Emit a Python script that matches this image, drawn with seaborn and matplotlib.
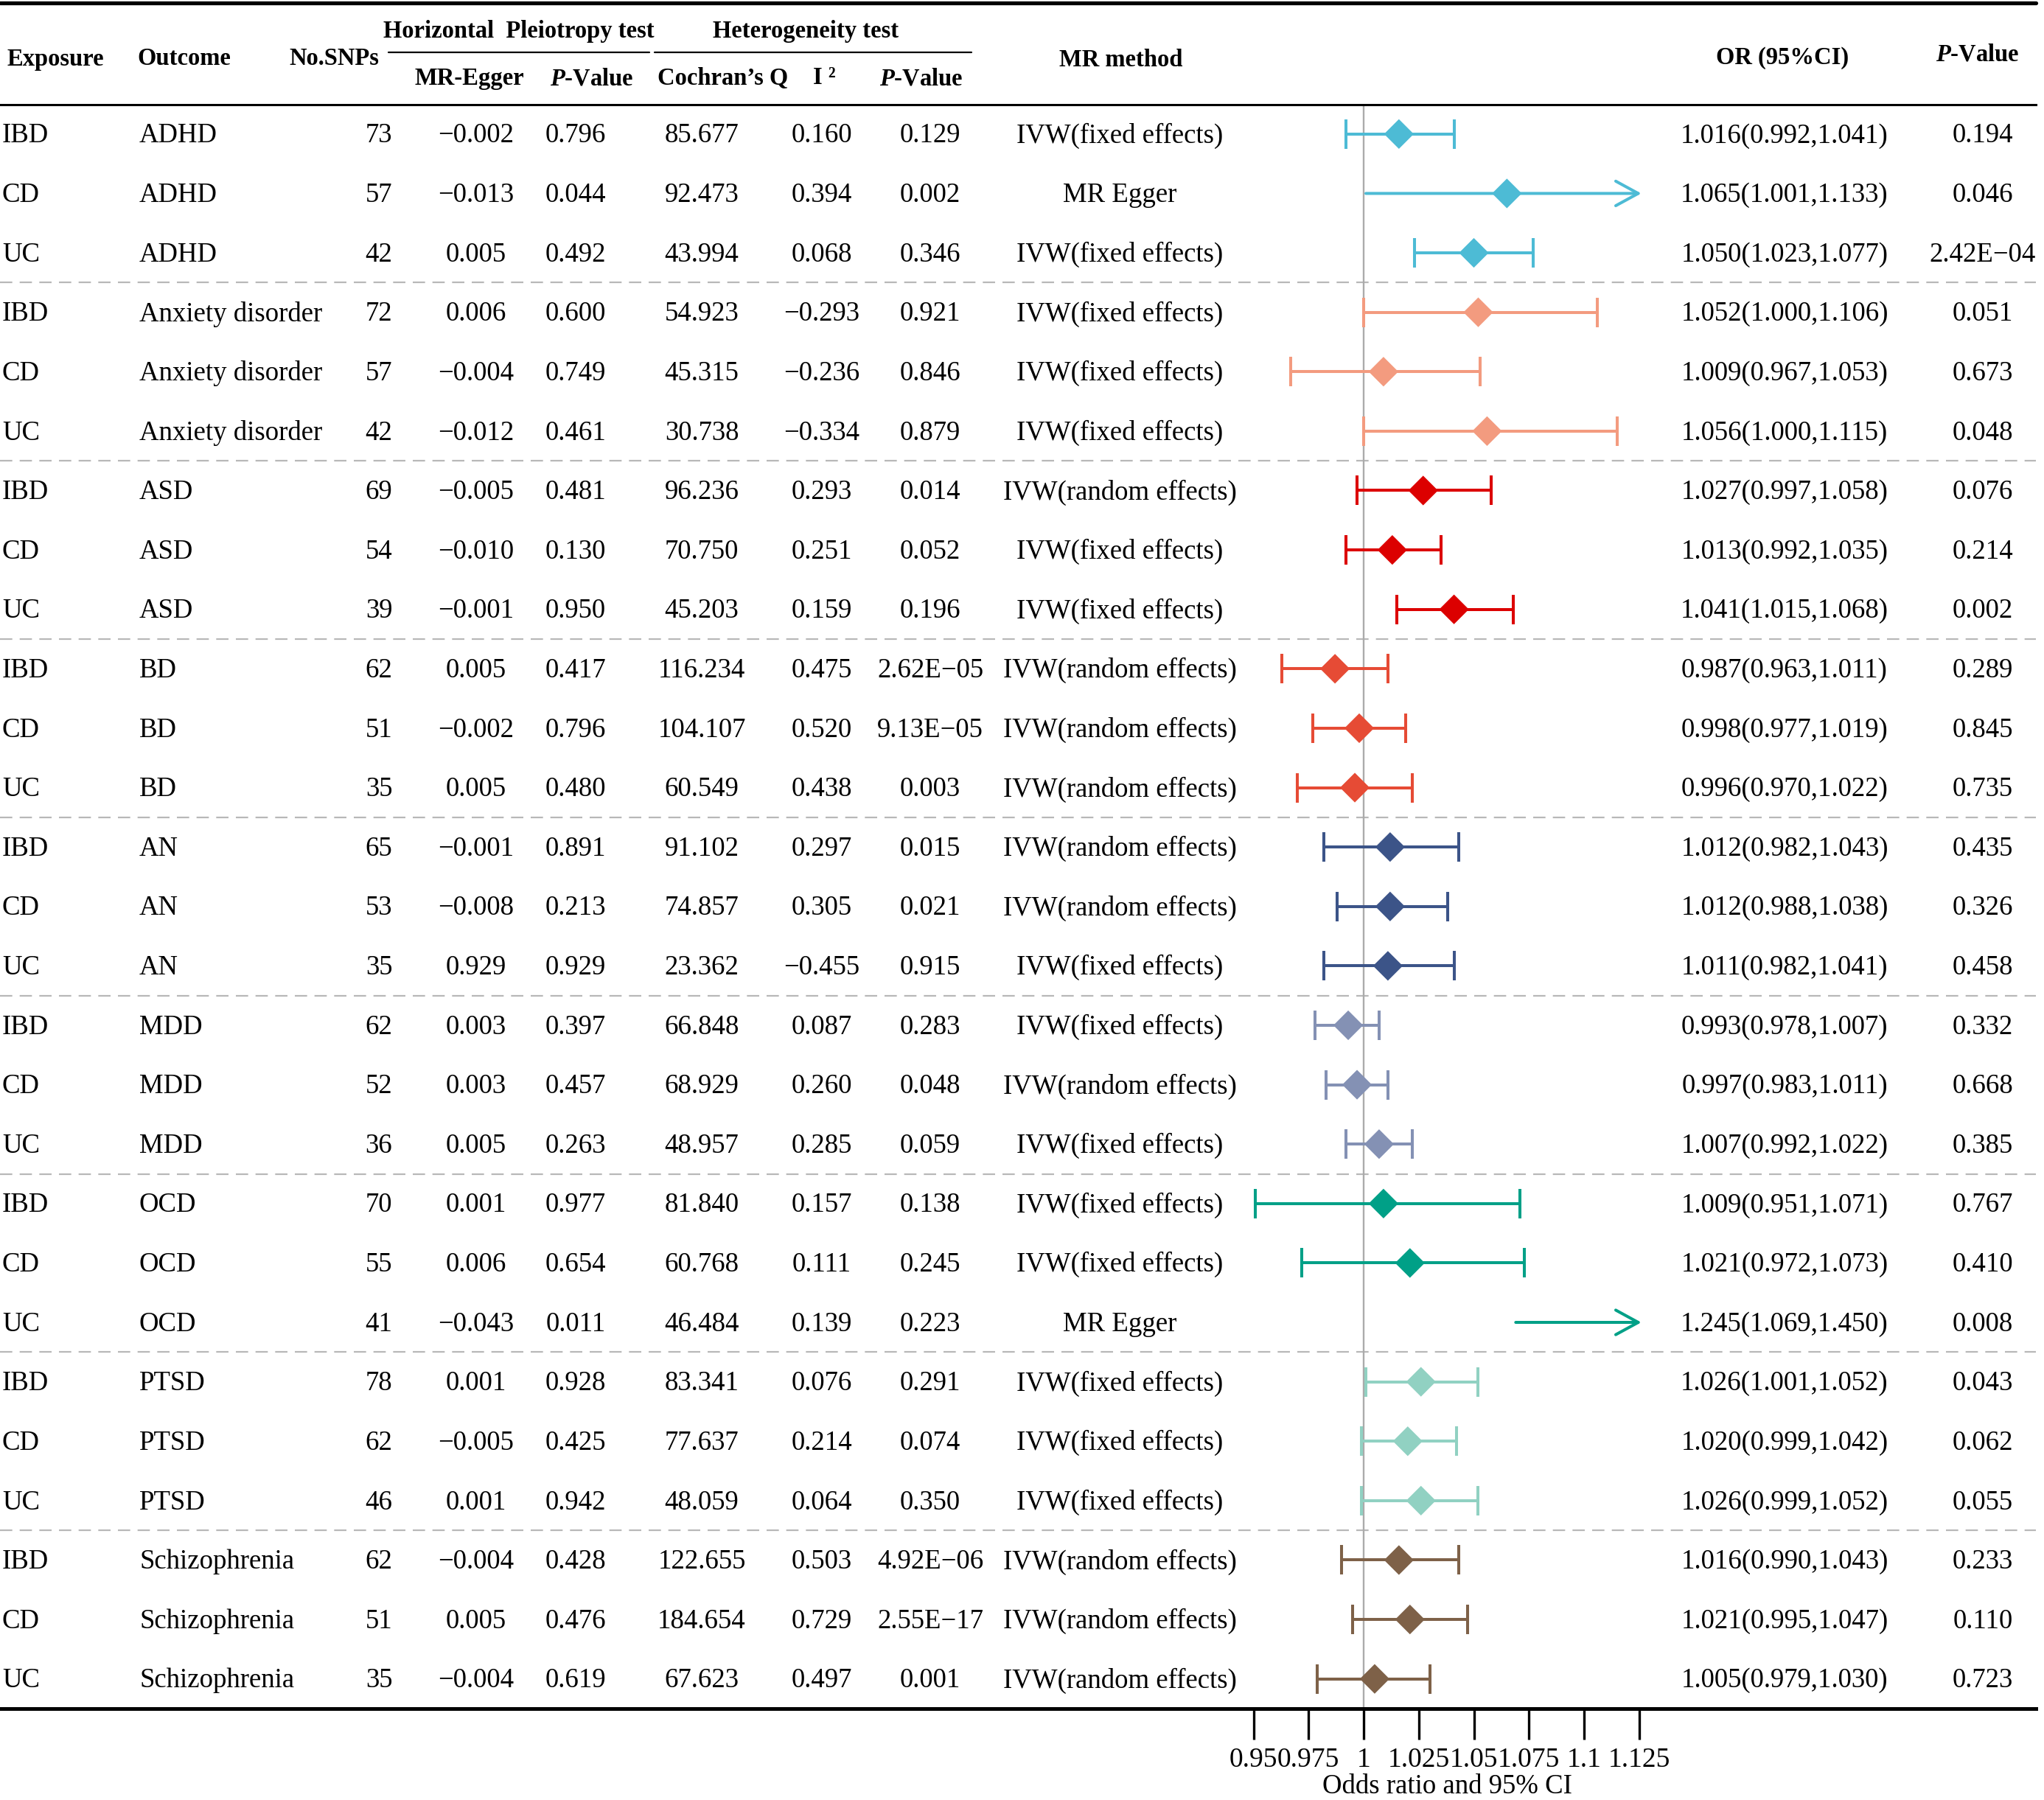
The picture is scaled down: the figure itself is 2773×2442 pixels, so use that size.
import numpy as np
import pandas as pd
import matplotlib
matplotlib.use("Agg")
import matplotlib.pyplot as plt
import seaborn as sns
from matplotlib.lines import Line2D
from matplotlib.transforms import blended_transform_factory

# ---------------- data ----------------
exposure = ["IBD", "CD", "UC"] * 9
outcome_groups = ["ADHD", "Anxiety disorder", "ASD", "BD", "AN", "MDD", "OCD", "PTSD", "Schizophrenia"]
outcome = [g for g in outcome_groups for _ in range(3)]
n_snps = [73, 57, 42, 72, 57, 42, 69, 54, 39, 62, 51, 35, 65, 53, 35, 62, 52, 36, 70, 55, 41, 78, 62, 46, 62, 51, 35]
mr_egger = [-0.002, -0.013, 0.005, 0.006, -0.004, -0.012, -0.005, -0.010, -0.001, 0.005, -0.002, 0.005,
            -0.001, -0.008, 0.929, 0.003, 0.003, 0.005, 0.001, 0.006, -0.043, 0.001, -0.005, 0.001,
            -0.004, 0.005, -0.004]
pleio_p = [0.796, 0.044, 0.492, 0.600, 0.749, 0.461, 0.481, 0.130, 0.950, 0.417, 0.796, 0.480,
           0.891, 0.213, 0.929, 0.397, 0.457, 0.263, 0.977, 0.654, 0.011, 0.928, 0.425, 0.942,
           0.428, 0.476, 0.619]
cochran_q = [85.677, 92.473, 43.994, 54.923, 45.315, 30.738, 96.236, 70.750, 45.203, 116.234, 104.107, 60.549,
             91.102, 74.857, 23.362, 66.848, 68.929, 48.957, 81.840, 60.768, 46.484, 83.341, 77.637, 48.059,
             122.655, 184.654, 67.623]
i2 = [0.160, 0.394, 0.068, -0.293, -0.236, -0.334, 0.293, 0.251, 0.159, 0.475, 0.520, 0.438,
      0.297, 0.305, -0.455, 0.087, 0.260, 0.285, 0.157, 0.111, 0.139, 0.076, 0.214, 0.064,
      0.503, 0.729, 0.497]
het_p = ["0.129", "0.002", "0.346", "0.921", "0.846", "0.879", "0.014", "0.052", "0.196",
         "2.62E−05", "9.13E−05", "0.003", "0.015", "0.021", "0.915", "0.283", "0.048", "0.059",
         "0.138", "0.245", "0.223", "0.291", "0.074", "0.350", "4.92E−06", "2.55E−17", "0.001"]
mr_method = ["IVW(fixed effects)", "MR Egger", "IVW(fixed effects)",
             "IVW(fixed effects)", "IVW(fixed effects)", "IVW(fixed effects)",
             "IVW(random effects)", "IVW(fixed effects)", "IVW(fixed effects)",
             "IVW(random effects)", "IVW(random effects)", "IVW(random effects)",
             "IVW(random effects)", "IVW(random effects)", "IVW(fixed effects)",
             "IVW(fixed effects)", "IVW(random effects)", "IVW(fixed effects)",
             "IVW(fixed effects)", "IVW(fixed effects)", "MR Egger",
             "IVW(fixed effects)", "IVW(fixed effects)", "IVW(fixed effects)",
             "IVW(random effects)", "IVW(random effects)", "IVW(random effects)"]
or_val = [1.016, 1.065, 1.050, 1.052, 1.009, 1.056, 1.027, 1.013, 1.041, 0.987, 0.998, 0.996,
          1.012, 1.012, 1.011, 0.993, 0.997, 1.007, 1.009, 1.021, 1.245, 1.026, 1.020, 1.026,
          1.016, 1.021, 1.005]
or_lo = [0.992, 1.001, 1.023, 1.000, 0.967, 1.000, 0.997, 0.992, 1.015, 0.963, 0.977, 0.970,
         0.982, 0.988, 0.982, 0.978, 0.983, 0.992, 0.951, 0.972, 1.069, 1.001, 0.999, 0.999,
         0.990, 0.995, 0.979]
or_hi = [1.041, 1.133, 1.077, 1.106, 1.053, 1.115, 1.058, 1.035, 1.068, 1.011, 1.019, 1.022,
         1.043, 1.038, 1.041, 1.007, 1.011, 1.022, 1.071, 1.073, 1.450, 1.052, 1.042, 1.052,
         1.043, 1.047, 1.030]
p_value = ["0.194", "0.046", "2.42E−04", "0.051", "0.673", "0.048", "0.076", "0.214", "0.002",
           "0.289", "0.845", "0.735", "0.435", "0.326", "0.458", "0.332", "0.668", "0.385",
           "0.767", "0.410", "0.008", "0.043", "0.062", "0.055", "0.233", "0.110", "0.723"]
x_ticks = [0.95, 0.975, 1.0, 1.025, 1.05, 1.075, 1.1, 1.125]
x_ticklabels = ["0.95", "0.975", "1", "1.025", "1.05", "1.075", "1.1", "1.125"]
group_colors = ["#4DBBD5", "#F39B7F", "#DC0000", "#E64B35", "#3C5488", "#8491B4", "#00A087", "#91D1C2", "#7E6148"]

# ---------------- style ----------------
sns.set_theme(style="white")
plt.rcParams["font.family"] = ["Liberation Serif", "DejaVu Serif"]
plt.rcParams["mathtext.fontset"] = "custom"
plt.rcParams["mathtext.it"] = "Liberation Serif:italic:bold"
plt.rcParams["mathtext.rm"] = "Liberation Serif:bold"
plt.rcParams["mathtext.bf"] = "Liberation Serif:bold"
plt.rcParams["text.color"] = "black"
plt.rcParams["axes.labelcolor"] = "black"
plt.rcParams["xtick.color"] = "black"

W, H = 2773, 2442
fig = plt.figure(figsize=(W / 100, H / 100), dpi=100)
fig.patch.set_facecolor("white")

AX_W = 2762
top_px, bot_px = 141.5, 2318
ax_h_px = bot_px - top_px
ax = fig.add_axes([0, 1 - bot_px / H, AX_W / W, ax_h_px / H])

PX_PER_UNIT = 2990.0
x_one_px = 1850.0
xl = 1 - x_one_px / PX_PER_UNIT
xr = xl + AX_W / PX_PER_UNIT
x_clip = 1.126

n = len(or_val)
rows = np.arange(n)
df = pd.DataFrame({"row": rows, "OR": or_val, "lo": or_lo, "hi": or_hi, "outcome": outcome})
pal = dict(zip(outcome_groups, group_colors))

ax.set_xlim(xl, xr)
ax.set_ylim(n - 0.5, -0.5)

# reference line
ax.axvline(1.0, color="#ABABAB", lw=1.7, zorder=1)

# group separators
for k in range(1, len(outcome_groups)):
    ax.axhline(3 * k - 0.5, color="#B8B8B8", lw=1.6, dashes=(7.5, 4.5), zorder=0.5)

LW = 2.9
for _, r in df.iterrows():
    c = pal[r["outcome"]]
    if r["hi"] > x_clip:
        ax.annotate("", xy=(x_clip, r["row"]), xytext=(max(r["lo"], xl), r["row"]),
                    arrowprops=dict(arrowstyle="->,head_length=1.1,head_width=0.6", color=c, lw=LW,
                                    shrinkA=0, shrinkB=0, mutation_scale=20, capstyle="round"),
                    zorder=2)
    else:
        ax.errorbar(r["OR"], r["row"], xerr=[[r["OR"] - r["lo"]], [r["hi"] - r["OR"]]], fmt="none",
                    ecolor=c, elinewidth=LW, capsize=14.5, capthick=LW, zorder=2)

df_in = df[df["OR"] <= x_clip]
sns.scatterplot(data=df_in, x="OR", y="row", hue="outcome", palette=pal, marker="D", s=420,
                linewidth=0, legend=False, ax=ax, zorder=3)

# axes styling
for s in ["left", "right"]:
    ax.spines[s].set_visible(False)
ax.spines["top"].set_visible(True)
ax.spines["top"].set_linewidth(2.2)
ax.spines["top"].set_color("black")
ax.spines["bottom"].set_linewidth(3.6)
ax.spines["bottom"].set_color("black")
ax.set_yticks([])
ax.set_ylabel("")
ax.set_xticks(x_ticks)
ax.set_xticklabels(x_ticklabels)
ax.tick_params(axis="x", which="both", bottom=True, top=False, direction="out", length=30, width=2.4,
               color="black", labelcolor="black", labelsize=27, pad=8)
ax.set_xlabel("")
ax.grid(False)

# axis title placed explicitly under the tick labels
ax.text(1963 / AX_W, -(2424 - bot_px) / ax_h_px, "Odds ratio and 95% CI", transform=ax.transAxes,
        ha="center", va="center", fontsize=26.5, color="black", clip_on=False)

# ---------------- table text ----------------
tr = blended_transform_factory(ax.transAxes, ax.transData)
FS = 26.5
YOFF = 0.03

def fmt(v):
    return f"{v:.3f}".replace("-", "−")

cols = [
    (3, "left", exposure),
    (189, "left", outcome),
    (514, "center", [str(v) for v in n_snps]),
    (646, "center", [fmt(v) for v in mr_egger]),
    (781, "center", [fmt(v) for v in pleio_p]),
    (952, "center", [fmt(v) for v in cochran_q]),
    (1115, "center", [fmt(v) for v in i2]),
    (1262, "center", het_p),
    (1519, "center", mr_method),
    (2421, "center", [f"{o:.3f}({l:.3f},{h:.3f})" for o, l, h in zip(or_val, or_lo, or_hi)]),
    (2690, "center", p_value),
]
for xpx, ha, vals in cols:
    for i, v in enumerate(vals):
        ax.text(xpx / AX_W, i + YOFF, v, transform=tr, ha=ha, va="center", fontsize=FS, color="black")

# ---------------- header ----------------
def fy(px):
    return 1 - px / H

def fx(px):
    return px / W

HFS = 23.5
hdr = dict(fontsize=HFS, fontweight="bold", color="black", va="center")
fig.text(fx(9), fy(80), "Exposure", ha="left", **hdr)
fig.text(fx(186), fy(80), "Outcome", ha="left", **hdr)
fig.text(fx(453), fy(80), "No.SNPs", ha="center", **hdr)
fig.text(fx(704), fy(43), "Horizontal  Pleiotropy test", ha="center", **hdr)
fig.text(fx(1093), fy(43), "Heterogeneity test", ha="center", **hdr)
fig.text(fx(637), fy(107), "MR-Egger", ha="center", **hdr)
fig.text(fx(803), fy(107), r"$\mathit{P}$-Value", ha="center", **hdr)
fig.text(fx(981), fy(107), "Cochran’s Q", ha="center", **hdr)
fig.text(fx(1118), fy(105), "I ²", ha="center", **hdr)
fig.text(fx(1250), fy(107), r"$\mathit{P}$-Value", ha="center", **hdr)
fig.text(fx(1521), fy(81), "MR method", ha="center", **hdr)
fig.text(fx(2418), fy(79), "OR (95%CI)", ha="center", **hdr)
fig.text(fx(2683), fy(74), r"$\mathit{P}$-Value", ha="center", **hdr)

# header rules
fig.add_artist(Line2D([0, AX_W / W], [fy(4), fy(4)], color="black", lw=3.8, transform=fig.transFigure))
fig.add_artist(Line2D([fx(527), fx(881)], [fy(71), fy(71)], color="black", lw=1.6, transform=fig.transFigure))
fig.add_artist(Line2D([fx(888), fx(1318)], [fy(71), fy(71)], color="black", lw=1.6, transform=fig.transFigure))

fig.savefig("out.png", dpi=100, facecolor="white")
